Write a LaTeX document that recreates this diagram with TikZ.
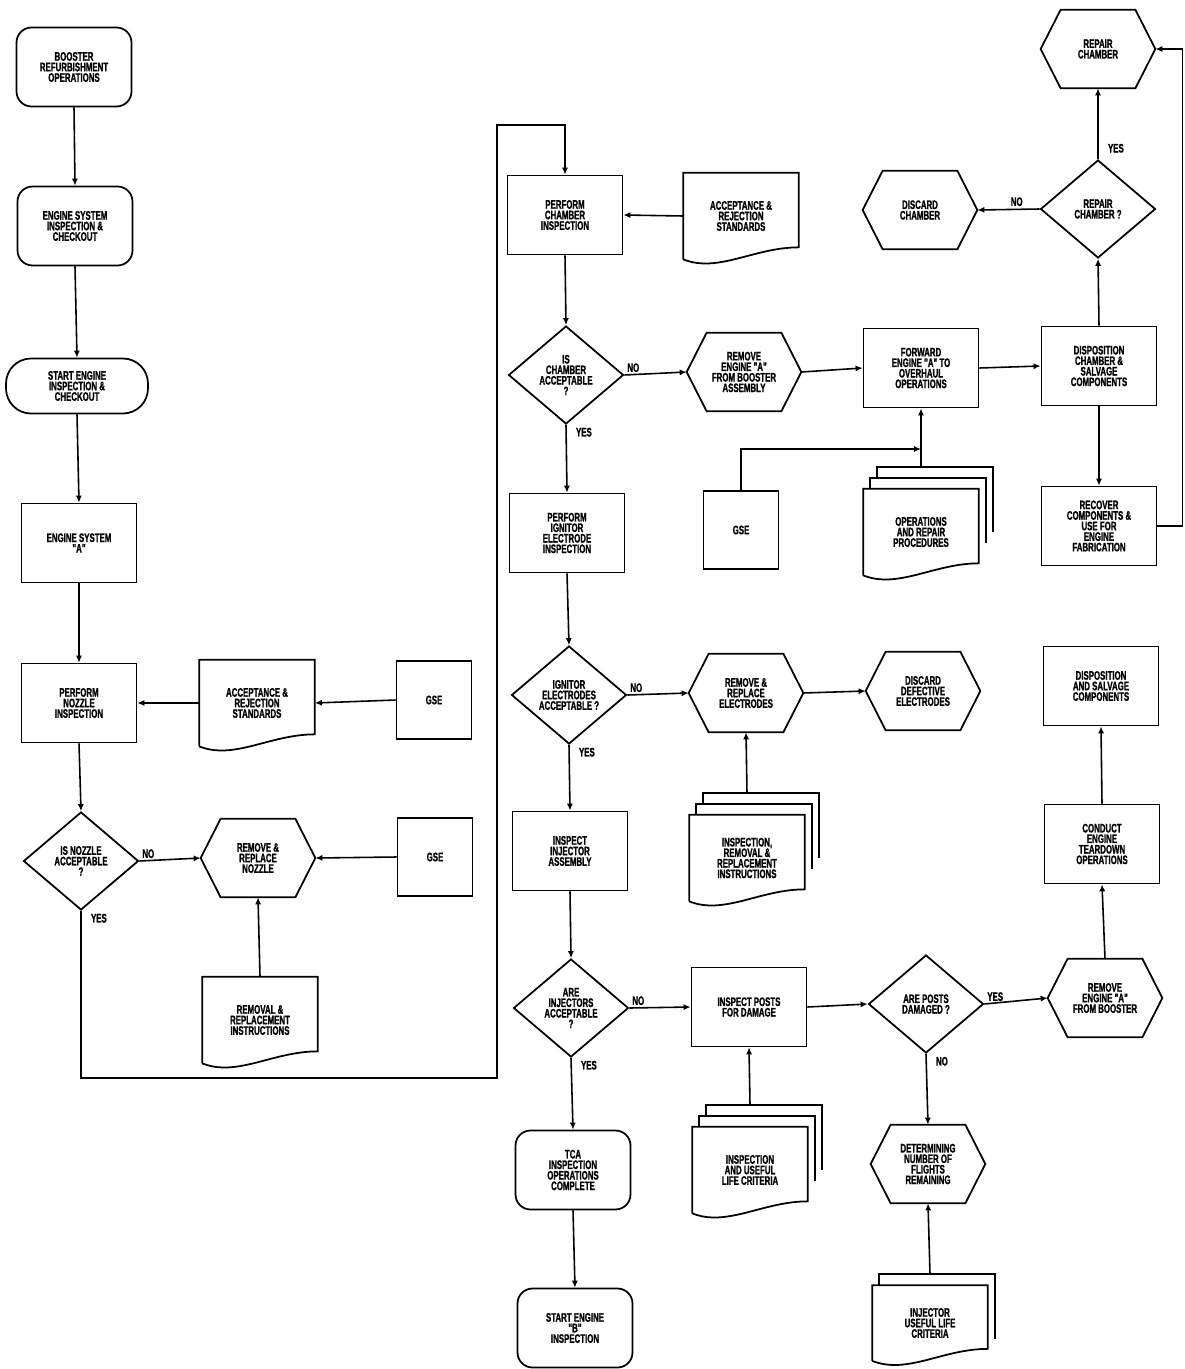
\documentclass[tikz,border=0pt]{standalone}
\usepackage{fontspec}
\usepackage{tikz}
\usetikzlibrary{arrows.meta,shapes.geometric}

\newfontfamily\chartfont{Liberation Sans}[FakeStretch=0.64, BoldFeatures={FakeBold=1.2}]

% outline of a hexagon around a (borderless) node
\newcommand{\hexoutline}[1]{%
	\draw[shapeline] (#1.west) -- ([xshift=0.4cm]#1.north west) -- ([xshift=-0.4cm]#1.north east)
		-- (#1.east) -- ([xshift=-0.4cm]#1.south east) -- ([xshift=0.4cm]#1.south west) -- cycle;}
% document sheet with a wavy lower edge
\newcommand{\docoutline}[1]{%
	\draw[shapeline] (#1.south west) -- (#1.north west) -- (#1.north east)
		-- ([yshift=0.24cm]#1.south east) .. controls +(-45,0) and +(35,14) .. (#1.south west);}
% extra sheets behind a document
\newcommand{\sheetstack}[2]{%
	\foreach \k in {1,...,#2}
		\draw[shapeline] ([xshift=\k*0.14cm, yshift=(\k-1)*0.22cm]#1.north west)
			-- ([xshift=\k*0.14cm, yshift=\k*0.22cm]#1.north west)
			-- ([xshift=\k*0.14cm, yshift=\k*0.22cm]#1.north east)
			-- ([xshift=\k*0.14cm, yshift=\k*0.22cm-1.3cm]#1.north east);}

\begin{document}
\begin{tikzpicture}[x=0.02cm, y=-0.02cm,
	every node/.style={font=\chartfont\bfseries\fontsize{7}{6}\selectfont},
	shapeline/.style={line width=1pt},
	proc/.style={draw, line width=1pt, minimum width=2.3cm, minimum height=1.58cm, inner sep=1pt, align=center},
	term/.style={proc, rounded corners=0.3cm},
	stadium/.style={proc, minimum width=2.84cm, minimum height=1.1cm, rounded corners=0.5cm},
	gse/.style={proc, minimum width=1.5cm, minimum height=1.56cm},
	decision/.style={diamond, draw, line width=1pt, aspect=1.2, minimum width=2.3cm, minimum height=1.96cm, inner sep=0pt, align=center},
	hexnode/.style={minimum width=2.28cm, minimum height=1.56cm, inner sep=1pt, align=center},
	doc/.style={minimum width=2.3cm, minimum height=1.72cm, inner sep=1pt, align=center},
	flow/.style={line width=0.9pt, -{Latex[length=4pt,width=3.5pt]}},
	lbl/.style={inner sep=1.5pt}]
	\useasboundingbox (0,0) rectangle (1185,1369);

	% nozzle branch
	\node[term] (boost) at (74,67) {BOOSTER\\REFURBISHMENT\\OPERATIONS};
	\node[term] (esinsp) at (75,226) {ENGINE SYSTEM\\INSPECTION \&\\CHECKOUT};
	\node[stadium] (startA) at (77,386) {START ENGINE\\INSPECTION \&\\CHECKOUT};
	\node[proc] (sysA) at (79,543) {ENGINE SYSTEM\\"A"};
	\node[proc] (nozinsp) at (79,703) {PERFORM\\NOZZLE\\INSPECTION};
	\node[doc] (accstd1) at (257,703) {ACCEPTANCE \&\\REJECTION\\STANDARDS};
	\node[gse] (gse1) at (434,700) {GSE};
	\node[decision] (nozq) at (81,861) {IS NOZZLE\\ACCEPTABLE\\?};
	\node[hexnode] (nozhex) at (258,858) {REMOVE \&\\REPLACE\\NOZZLE};
	\node[gse] (gse2) at (435,857) {GSE};
	\node[doc] (remdoc) at (260,1020) {REMOVAL \&\\REPLACEMENT\\INSTRUCTIONS};
	\coordinate (loopbot) at (497,1078);
	\coordinate (looptop) at (497,125);

	% chamber branch
	\node[proc] (chinsp) at (565,215) {PERFORM\\CHAMBER\\INSPECTION};
	\node[doc] (accstd2) at (741,216) {ACCEPTANCE \&\\REJECTION\\STANDARDS};
	\node[decision] (chq) at (566,375) {IS\\CHAMBER\\ACCEPTABLE\\?};
	\node[hexnode] (rmeng) at (744,372) {REMOVE\\ENGINE "A"\\FROM BOOSTER\\ASSEMBLY};
	\node[proc] (fwd) at (921,368) {FORWARD\\ENGINE "A" TO\\OVERHAUL\\OPERATIONS};
	\node[proc] (dispch) at (1099,366) {DISPOSITION\\CHAMBER \&\\SALVAGE\\COMPONENTS};
	\node[decision] (repq) at (1098,209) {REPAIR\\CHAMBER ?};
	\node[hexnode] (discch) at (920,210) {DISCARD\\CHAMBER};
	\node[hexnode] (repch) at (1098,49) {REPAIR\\CHAMBER};
	\node[proc] (recov) at (1099,526) {RECOVER\\COMPONENTS \&\\USE FOR\\ENGINE\\FABRICATION};
	\node[gse] (gse3) at (741,530) {GSE};
	\node[doc] (opsdoc) at (921,532) {OPERATIONS\\AND REPAIR\\PROCEDURES};
	\coordinate (gsejoin) at (921,449);

	% ignitor and injector branch
	\node[proc] (ignins) at (567,533) {PERFORM\\IGNITOR\\ELECTRODE\\INSPECTION};
	\node[decision] (ignq) at (569,695) {IGNITOR\\ELECTRODES\\ACCEPTABLE ?};
	\node[hexnode] (rmel) at (746,693) {REMOVE \&\\REPLACE\\ELECTRODES};
	\node[hexnode] (discel) at (923,691) {DISCARD\\DEFECTIVE\\ELECTRODES};
	\node[doc] (insdoc) at (747,858) {INSPECTION,\\REMOVAL \&\\REPLACEMENT\\INSTRUCTIONS};
	\node[proc] (injins) at (570,851) {INSPECT\\INJECTOR\\ASSEMBLY};
	\node[decision] (injq) at (571,1008) {ARE\\INJECTORS\\ACCEPTABLE\\?};
	\node[proc] (posts) at (749,1007) {INSPECT POSTS\\FOR DAMAGE};
	\node[doc] (lifedoc) at (750,1170) {INSPECTION\\AND USEFUL\\LIFE CRITERIA};
	\node[term] (tca) at (573,1170) {TCA\\INSPECTION\\OPERATIONS\\COMPLETE};
	\node[term] (startB) at (575,1328) {START ENGINE\\"B"\\INSPECTION};
	\node[decision] (postsq) at (926,1004) {ARE POSTS\\DAMAGED ?};
	\node[hexnode] (determ) at (928,1164) {DETERMINING\\NUMBER OF\\FLIGHTS\\REMAINING};
	\node[doc, minimum height=1.5cm] (injdoc) at (930,1323) {INJECTOR\\USEFUL LIFE\\CRITERIA};
	\node[hexnode] (rmboost) at (1105,998) {REMOVE\\ENGINE "A"\\FROM BOOSTER};
	\node[proc] (teardown) at (1102,844) {CONDUCT\\ENGINE\\TEARDOWN\\OPERATIONS};
	\node[proc] (salv) at (1101,686) {DISPOSITION\\AND SALVAGE\\COMPONENTS};

	% outlines of hexagons and documents
	\foreach \n in {nozhex,rmeng,discch,repch,rmel,discel,determ,rmboost}
		\hexoutline{\n};
	\foreach \n in {accstd1,remdoc,accstd2,opsdoc,insdoc,lifedoc,injdoc}
		\docoutline{\n};
	\sheetstack{opsdoc}{2}
	\sheetstack{insdoc}{2}
	\sheetstack{lifedoc}{2}
	\sheetstack{injdoc}{1}

	% connectors
	\draw[flow] (boost.south) -- (esinsp.north);
	\draw[flow] (esinsp.south) -- (startA.north);
	\draw[flow] (startA.south) -- (sysA.north);
	\draw[flow] (sysA.south) -- (nozinsp.north);
	\draw[flow] (accstd1.west) -- (nozinsp.east);
	\draw[flow] (gse1.west) -- (accstd1.east);
	\draw[flow] (nozinsp.south) -- (nozq.north);
	\draw[flow] (nozq.east) -- (nozhex.west);
	\draw[flow] (gse2.west) -- (nozhex.east);
	\draw[flow] (remdoc.north) -- (nozhex.south);
	\draw[flow] (nozq.south) |- (loopbot) -- (looptop) -| (chinsp.north);
	\draw[flow] (accstd2.west) -- (chinsp.east);
	\draw[flow] (chinsp.south) -- (chq.north);
	\draw[flow] (chq.east) -- (rmeng.west);
	\draw[flow] (rmeng.east) -- (fwd.west);
	\draw[flow] (fwd.east) -- (dispch.west);
	\draw[flow] (dispch.north) -- (repq.south);
	\draw[flow] (repq.north) -- (repch.south);
	\draw[flow] (repq.west) -- (discch.east);
	\draw[flow] (dispch.south) -- (recov.north);
	\draw[flow] (recov.east) -- ++(25,0) |- (repch.east);
	\draw[flow] (gse3.north) |- (gsejoin);
	\draw[flow] ([yshift=0.44cm]opsdoc.north) -- (fwd.south);
	\draw[flow] (chq.south) -- (ignins.north);
	\draw[flow] (ignins.south) -- (ignq.north);
	\draw[flow] (ignq.east) -- (rmel.west);
	\draw[flow] (rmel.east) -- (discel.west);
	\draw[flow] ([yshift=0.44cm]insdoc.north) -- (rmel.south);
	\draw[flow] (ignq.south) -- (injins.north);
	\draw[flow] (injins.south) -- (injq.north);
	\draw[flow] (injq.east) -- (posts.west);
	\draw[flow] (injq.south) -- (tca.north);
	\draw[flow] (tca.south) -- (startB.north);
	\draw[flow] ([yshift=0.44cm]lifedoc.north) -- (posts.south);
	\draw[flow] (posts.east) -- (postsq.west);
	\draw[flow] (postsq.east) -- (rmboost.west);
	\draw[flow] (postsq.south) -- (determ.north);
	\draw[flow] ([yshift=0.22cm]injdoc.north) -- (determ.south);
	\draw[flow] (rmboost.north) -- (teardown.south);
	\draw[flow] (teardown.north) -- (salv.south);

	% yes / no labels
	\node[lbl, anchor=south west] at (nozq.east) {NO};
	\node[lbl, anchor=north west, xshift=4pt] at (nozq.south) {YES};
	\node[lbl, anchor=south west] at (chq.east) {NO};
	\node[lbl, anchor=north west, xshift=4pt] at (chq.south) {YES};
	\node[lbl, anchor=south west] at (ignq.east) {NO};
	\node[lbl, anchor=north west, xshift=4pt] at (ignq.south) {YES};
	\node[lbl, anchor=south west] at (injq.east) {NO};
	\node[lbl, anchor=north west, xshift=4pt] at (injq.south) {YES};
	\node[lbl, anchor=south west] at (postsq.east) {YES};
	\node[lbl, anchor=north west, xshift=4pt] at (postsq.south) {NO};
	\node[lbl, anchor=south west, xshift=4pt, yshift=2pt] at (repq.north) {YES};
	\node[lbl, anchor=south east, xshift=-8pt] at (repq.west) {NO};
\end{tikzpicture}
\end{document}
